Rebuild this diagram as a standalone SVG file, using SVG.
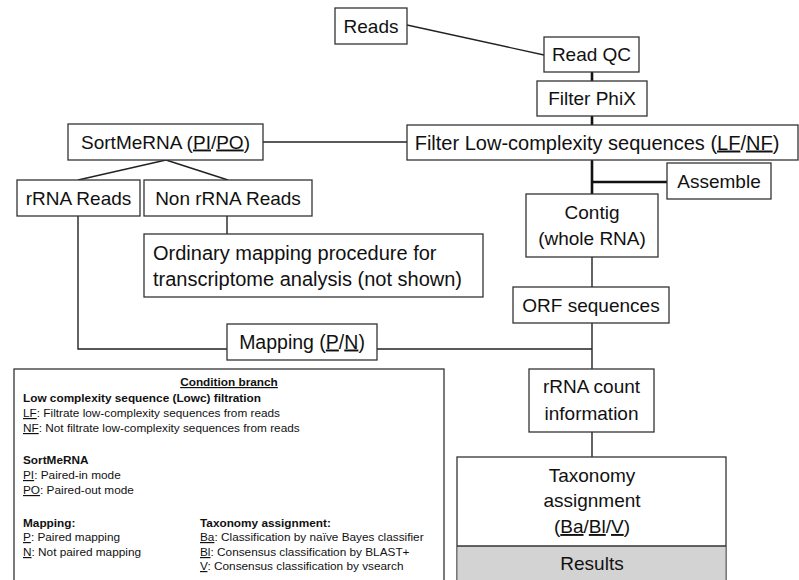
<svg xmlns="http://www.w3.org/2000/svg" width="799" height="580" viewBox="0 0 799 580">
<style>
.box{fill:#fff;stroke:#333;stroke-width:1.3}
.t{font-family:"Liberation Sans",Arial,sans-serif;font-size:19px;fill:#111;text-anchor:middle}
.tl{font-family:"Liberation Sans",Arial,sans-serif;font-size:20px;fill:#111}
.lg{font-family:"Liberation Sans",Arial,sans-serif;font-size:11.8px;fill:#111}
.b{font-weight:bold}
.u{text-decoration:underline}
.c{fill:none;stroke:#222;stroke-width:1.4}
.ck{fill:none;stroke:#111;stroke-width:2.6}
</style>
<rect width="799" height="580" fill="#fff"/>
<g id="connectors">
<line class="c" x1="407" y1="25" x2="544" y2="55"/>
<line class="ck" x1="592" y1="72" x2="592" y2="81"/>
<line class="ck" x1="592" y1="116" x2="592" y2="125"/>
<line class="c" x1="263" y1="142" x2="407" y2="142"/>
<line class="c" x1="166" y1="160" x2="78" y2="180"/>
<line class="c" x1="166" y1="160" x2="228" y2="180"/>
<line class="c" x1="227" y1="216" x2="227" y2="234"/>
<polyline class="c" points="78,216 78,349 227,349"/>
<line class="c" x1="377" y1="349" x2="592" y2="349"/>
<line class="ck" x1="592" y1="160" x2="592" y2="194"/>
<line class="ck" x1="592" y1="182" x2="667" y2="182"/>
<line class="c" x1="592" y1="257" x2="592" y2="287"/>
<line class="c" x1="592" y1="323" x2="592" y2="369"/>
<line class="c" x1="592" y1="432" x2="592" y2="457"/>
</g>
<g id="reads"><rect class="box" x="335" y="8" width="72" height="36"/><text class="t" x="371" y="32.5">Reads</text></g>
<g id="readqc"><rect class="box" x="544" y="37" width="95" height="35"/><text class="t" x="591.5" y="61">Read QC</text></g>
<g id="phix"><rect class="box" x="537" y="81" width="110" height="35"/><text class="t" x="592" y="105">Filter PhiX</text></g>
<g id="filterlc"><rect class="box" x="407" y="125" width="391" height="35"/><text class="t" x="597" y="149.5" style="font-size:20px">Filter Low-complexity sequences (<tspan class="u">LF</tspan>/<tspan class="u">NF</tspan>)</text></g>
<g id="sortmerna"><rect class="box" x="68" y="124" width="195" height="36"/><text class="t" x="165.5" y="148.5">SortMeRNA (<tspan class="u">PI</tspan>/<tspan class="u">PO</tspan>)</text></g>
<g id="rrnareads"><rect class="box" x="17" y="180" width="123" height="36"/><text class="t" x="78.5" y="204.5">rRNA Reads</text></g>
<g id="nonrrna"><rect class="box" x="144" y="180" width="168" height="36"/><text class="t" x="228" y="204.5">Non rRNA Reads</text></g>
<g id="ordinary"><rect class="box" x="144" y="234" width="339" height="63"/><text class="tl" x="153" y="260">Ordinary mapping procedure for</text><text class="tl" x="153" y="286">transcriptome analysis (not shown)</text></g>
<g id="mapping"><rect class="box" x="227" y="324" width="150" height="36"/><text class="t" x="302" y="348.5" style="font-size:19.5px">Mapping (<tspan class="u">P</tspan>/<tspan class="u">N</tspan>)</text></g>
<g id="assemble"><rect class="box" x="667" y="163" width="104" height="36"/><text class="t" x="719" y="187.5">Assemble</text></g>
<g id="contig"><rect class="box" x="526" y="194" width="132" height="63"/><text class="t" x="592" y="219">Contig</text><text class="t" x="592" y="245">(whole RNA)</text></g>
<g id="orf"><rect class="box" x="513" y="287" width="156" height="36"/><text class="t" x="591" y="311.5">ORF sequences</text></g>
<g id="rrnacount"><rect class="box" x="529" y="369" width="125" height="63"/><text class="t" x="591.5" y="393">rRNA count</text><text class="t" x="591.5" y="420">information</text></g>
<g id="taxonomy"><rect class="box" x="457" y="457" width="269" height="130"/><rect x="457.6" y="546" width="267.8" height="40" fill="#d3d3d3" stroke="none"/><line x1="457" y1="546" x2="726" y2="546" stroke="#333" stroke-width="1.3"/><text class="t" x="592" y="482">Taxonomy</text><text class="t" x="592" y="507">assignment</text><text class="t" x="592" y="533">(<tspan class="u">Ba</tspan>/<tspan class="u">Bl</tspan>/<tspan class="u">V</tspan>)</text><text class="t" x="592" y="570">Results</text></g>
<g id="legend"><rect class="box" x="14" y="369" width="430" height="220"/>
<text class="lg b u" x="229" y="386" text-anchor="middle">Condition branch</text>
<text class="lg b" x="23" y="402">Low complexity sequence (Lowc) filtration</text>
<text class="lg" x="23" y="417"><tspan class="u">LF</tspan>: Filtrate low-complexity sequences from reads</text>
<text class="lg" x="23" y="432"><tspan class="u">NF</tspan>: Not filtrate low-complexity sequences from reads</text>
<text class="lg b" x="23" y="464">SortMeRNA</text>
<text class="lg" x="23" y="479"><tspan class="u">PI</tspan>: Paired-in mode</text>
<text class="lg" x="23" y="494"><tspan class="u">PO</tspan>: Paired-out mode</text>
<text class="lg b" x="23" y="527">Mapping:</text>
<text class="lg" x="23" y="541"><tspan class="u">P</tspan>: Paired mapping</text>
<text class="lg" x="23" y="556"><tspan class="u">N</tspan>: Not paired mapping</text>
<text class="lg b" x="200" y="527">Taxonomy assignment:</text>
<text class="lg" x="200" y="541"><tspan class="u">Ba</tspan>: Classification by naïve Bayes classifier</text>
<text class="lg" x="200" y="556"><tspan class="u">Bl</tspan>: Consensus classification by BLAST+</text>
<text class="lg" x="200" y="570"><tspan class="u">V</tspan>: Consensus classification by vsearch</text>
</g>
</svg>
